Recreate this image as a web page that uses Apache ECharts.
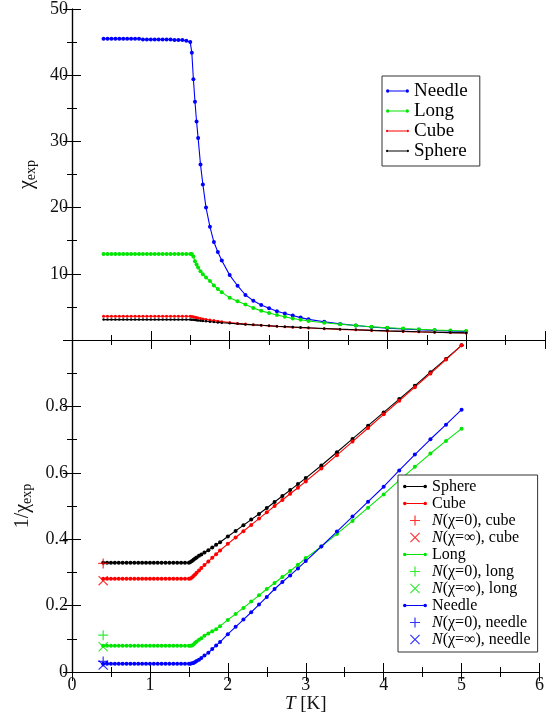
<!DOCTYPE html>
<html>
<head>
<meta charset="utf-8">
<script src="https://cdn.jsdelivr.net/npm/echarts@6/dist/echarts.min.js"></script>
<style>
html,body{margin:0;padding:0;background:#fff;}
#chart{width:547px;height:718px;}
</style>
</head>
<body>
<div id="chart"></div>
<script>
// Temperature values (K), shared by all measured series
const T = [0.40,0.45,0.50,0.55,0.60,0.65,0.70,0.75,0.80,0.85,0.90,0.95,1.00,1.05,1.10,1.15,1.20,1.25,1.30,1.35,1.40,1.45,1.50,
  1.52,1.54,1.56,1.58,1.60,1.63,1.66,1.70,1.75,1.80,1.85,1.90,2.0,2.1,2.2,2.3,2.4,2.5,2.6,2.7,2.8,2.9,3.0,3.2,3.4,3.6,3.8,4.0,4.2,4.4,4.6,4.8,5.0];

// Top panel: chi_exp
const needleChi = [45.5,45.5,45.5,45.5,45.5,45.5,45.5,45.5,45.5,45.5,45.4,45.4,45.4,45.4,45.4,45.4,45.4,45.4,45.3,45.3,45.3,45.2,45.0,
  43.4,39.4,36.0,33.0,30.5,26.5,23.5,20.0,17.1,14.8,13.3,12.0,9.8,8.2,6.8,5.94,5.3,4.8,4.35,4.0,3.7,3.38,3.12,2.75,2.43,2.18,1.97,1.80,1.66,1.54,1.44,1.35,1.28];
const longChi = [13.0,13.0,13.0,13.0,13.0,13.0,13.0,13.0,13.0,13.0,13.0,13.0,13.0,13.0,13.0,13.0,13.0,13.0,13.0,13.0,13.0,13.0,13.0,
  13.0,12.6,11.9,11.4,10.95,10.4,9.95,9.45,8.9,8.25,7.7,7.2,6.4,5.85,5.35,4.84,4.4,4.08,3.78,3.5,3.25,3.05,2.88,2.60,2.38,2.18,2.01,1.86,1.73,1.62,1.52,1.44,1.36];
const cubeChi = [3.58,3.58,3.58,3.58,3.58,3.58,3.58,3.58,3.58,3.58,3.58,3.58,3.58,3.58,3.58,3.58,3.58,3.58,3.58,3.58,3.58,3.58,3.58,
  3.56,3.50,3.44,3.38,3.33,3.26,3.19,3.11,3.02,2.93,2.85,2.77,2.63,2.51,2.41,2.31,2.22,2.14,2.06,2.00,1.93,1.87,1.81,1.71,1.61,1.53,1.45,1.37,1.30,1.23,1.17,1.12,1.07];
const sphereChi = [3.08,3.08,3.08,3.08,3.08,3.08,3.08,3.08,3.08,3.08,3.08,3.08,3.08,3.08,3.08,3.08,3.08,3.08,3.08,3.08,3.08,3.08,3.08,
  3.07,3.05,3.02,2.99,2.96,2.92,2.88,2.83,2.77,2.71,2.66,2.61,2.52,2.44,2.36,2.29,2.22,2.15,2.08,2.02,1.96,1.90,1.85,1.74,1.64,1.55,1.46,1.38,1.31,1.24,1.18,1.12,1.07];

// Bottom panel: 1/chi_exp
const sphereInv = [0.329,0.329,0.329,0.329,0.329,0.329,0.329,0.329,0.329,0.329,0.329,0.329,0.329,0.329,0.329,0.329,0.329,0.329,0.329,0.329,0.329,0.329,0.329,
  0.331,0.334,0.338,0.342,0.345,0.350,0.354,0.360,0.367,0.375,0.383,0.391,0.408,0.425,0.442,0.459,0.476,0.494,0.512,0.530,0.548,0.566,0.584,0.622,0.662,0.702,0.742,0.782,0.822,0.862,0.903,0.943,0.984];
const cubeInv = [0.281,0.281,0.281,0.281,0.281,0.281,0.281,0.281,0.281,0.281,0.281,0.281,0.281,0.281,0.281,0.281,0.281,0.281,0.281,0.281,0.281,0.281,0.281,
  0.282,0.285,0.289,0.294,0.299,0.306,0.313,0.322,0.333,0.344,0.355,0.366,0.386,0.405,0.424,0.443,0.462,0.481,0.500,0.518,0.537,0.555,0.574,0.613,0.653,0.694,0.735,0.776,0.817,0.858,0.899,0.941,0.984];
const longInv = [0.079,0.079,0.079,0.079,0.079,0.079,0.079,0.079,0.079,0.079,0.079,0.079,0.079,0.079,0.079,0.079,0.079,0.079,0.079,0.079,0.079,0.079,0.079,
  0.079,0.080,0.083,0.088,0.092,0.097,0.102,0.109,0.116,0.123,0.129,0.138,0.157,0.175,0.193,0.212,0.231,0.250,0.268,0.286,0.304,0.323,0.343,0.378,0.416,0.455,0.495,0.535,0.577,0.618,0.658,0.696,0.733];
const needleInv = [0.025,0.025,0.025,0.025,0.025,0.025,0.025,0.025,0.025,0.025,0.025,0.025,0.025,0.025,0.025,0.025,0.025,0.025,0.025,0.025,0.025,0.025,0.025,
  0.025,0.026,0.027,0.030,0.033,0.037,0.042,0.050,0.058,0.069,0.080,0.090,0.114,0.136,0.158,0.180,0.203,0.226,0.250,0.271,0.291,0.312,0.334,0.378,0.423,0.468,0.513,0.558,0.607,0.655,0.701,0.745,0.790];

// Demagnetisation-corrected estimates at T = 0.4 K
const estT = [0.4];
const cubeN0 = [0.327];
const cubeNinf = [0.275];
const longN0 = [0.111];
const longNinf = [0.076];
const needleN0 = [0.032];
const needleNinf = [0.021];

const topLegend = ['Needle', 'Long', 'Cube', 'Sphere'];
const bottomLegend = ['Sphere', 'Cube', 'N(χ=0), cube', 'N(χ=∞), cube', 'Long', 'N(χ=0), long', 'N(χ=∞), long', 'Needle', 'N(χ=0), needle', 'N(χ=∞), needle'];

const FONT = '"Liberation Serif", "Times New Roman", serif';
const BLUE = '#0000ff', GREEN = '#00e600', RED = '#ff0000', BLACK = '#000000';

const PLUS = 'path://M4.4,0H5.6V4.4H10V5.6H5.6V10H4.4V5.6H0V4.4H4.4Z';
const CROSS = 'path://M0,0.85L0.85,0L5,4.15L9.15,0L10,0.85L5.85,5L10,9.15L9.15,10L5,5.85L0.85,10L0,9.15L4.15,5Z';
const LINE_DOT = 'path://M0,5A1.8,1.8,0,1,1,3.6,5A1.8,1.8,0,1,1,0,5ZM20.4,5A1.8,1.8,0,1,1,24,5A1.8,1.8,0,1,1,20.4,5ZM3.6,4.5H20.4V5.5H3.6Z';
const LINE_SMALL = 'path://M0,5A1.2,1.2,0,1,1,2.4,5A1.2,1.2,0,1,1,0,5ZM21.6,5A1.2,1.2,0,1,1,24,5A1.2,1.2,0,1,1,21.6,5ZM2.4,4.6H21.6V5.4H2.4Z';

function pairs(xs, ys) { return xs.map((x, i) => [x, ys[i]]); }

function lineSeries(name, color, ys, xi, yi, size) {
  return {
    name: name, type: 'line', xAxisIndex: xi, yAxisIndex: yi,
    data: pairs(T, ys), symbol: 'circle', symbolSize: size, showSymbol: true, showAllSymbol: true,
    lineStyle: { color: color, width: 1.1 }, itemStyle: { color: color }, z: 3
  };
}
function markSeries(name, color, sym, ys) {
  return {
    name: name, type: 'scatter', xAxisIndex: 2, yAxisIndex: 2,
    data: pairs(estT, ys), symbol: sym, symbolSize: 10, itemStyle: { color: color }, z: 4
  };
}

const axisLineStyle = { show: true, lineStyle: { color: '#000', width: 1.2 } };
function xAx(grid, pos, labels) {
  const a = {
    type: 'value', gridIndex: grid, position: pos, min: 0, max: 6, interval: 1,
    axisLine: axisLineStyle,
    axisTick: { show: true, inside: true, length: 9, lineStyle: { color: '#000', width: 1 } },
    minorTick: { show: true, splitNumber: 2, length: 5, lineStyle: { color: '#000', width: 1 } },
    splitLine: { show: false }, minorSplitLine: { show: false },
    axisLabel: { show: labels, color: '#111', fontFamily: FONT, fontSize: 18, margin: 4 }
  };
  if (labels) {
    a.name = '{i|T} [K]';
    a.nameLocation = 'middle';
    a.nameGap = 21;
    a.nameTextStyle = { color: '#111', fontFamily: FONT, fontSize: 19,
      rich: { i: { fontStyle: 'italic', fontFamily: FONT, fontSize: 19, color: '#111' } } };
  }
  return a;
}
function yAx(grid, pos, max, interval, labels, nameStr, showMin, showMax) {
  const a = {
    type: 'value', gridIndex: grid, position: pos, min: 0, max: max, interval: interval,
    axisLine: axisLineStyle,
    axisTick: { show: true, inside: true, length: 9, lineStyle: { color: '#000', width: 1 } },
    minorTick: { show: true, splitNumber: 2, length: 5, lineStyle: { color: '#000', width: 1 } },
    splitLine: { show: false }, minorSplitLine: { show: false },
    axisLabel: { show: labels, color: '#111', fontFamily: FONT, fontSize: 18, margin: 4,
      showMinLabel: showMin, showMaxLabel: showMax }
  };
  if (nameStr) {
    a.name = nameStr;
    a.nameLocation = 'middle';
    a.nameRotate = 90;
    a.nameGap = 34;
    a.nameTextStyle = { color: '#111', fontFamily: FONT,
      rich: {
        a: { fontFamily: FONT, fontSize: 20, color: '#111' },
        b: { fontFamily: FONT, fontSize: 14, color: '#111', padding: [9, 0, 0, 0] }
      } };
  }
  return a;
}

function legendFormatter(name) {
  if (name.indexOf('N(') === 0) return '{i|N}{n|' + name.slice(1) + '}';
  return '{n|' + name + '}';
}

const option = {
  animation: false,
  backgroundColor: '#fff',
  grid: [
    { left: 72, top: 7, width: 473, height: 333 },
    { left: 72, top: 340, width: 473, height: 332 }
  ],
  xAxis: [xAx(0, 'bottom', false), xAx(0, 'top', false), xAx(1, 'bottom', true), xAx(1, 'top', false)],
  yAxis: [
    yAx(0, 'left', 50, 10, true, '{a|χ}{b|exp}', false, true),
    yAx(0, 'right', 50, 10, false, null, false, false),
    yAx(1, 'left', 1.0, 0.2, true, '{a|1/χ}{b|exp}', true, false),
    yAx(1, 'right', 1.0, 0.2, false, null, false, false)
  ],
  legend: [
    {
      data: [
        { name: topLegend[0], icon: LINE_DOT },
        { name: topLegend[1], icon: LINE_DOT },
        { name: topLegend[2], icon: LINE_SMALL },
        { name: topLegend[3], icon: LINE_SMALL }
      ],
      orient: 'vertical', left: 382, top: 76, padding: [5, 12, 5, 4], itemGap: 0,
      itemWidth: 23, itemHeight: 10, selectedMode: false,
      borderColor: '#333', borderWidth: 1, backgroundColor: '#fff',
      textStyle: { fontFamily: FONT, fontSize: 19, lineHeight: 20, color: '#000',
        rich: { n: { fontFamily: FONT, fontSize: 19, lineHeight: 20, color: '#000' } } },
      formatter: legendFormatter
    },
    {
      data: [
        { name: bottomLegend[0], icon: LINE_DOT },
        { name: bottomLegend[1], icon: LINE_DOT },
        { name: bottomLegend[2], icon: PLUS },
        { name: bottomLegend[3], icon: CROSS },
        { name: bottomLegend[4], icon: LINE_DOT },
        { name: bottomLegend[5], icon: PLUS },
        { name: bottomLegend[6], icon: CROSS },
        { name: bottomLegend[7], icon: LINE_DOT },
        { name: bottomLegend[8], icon: PLUS },
        { name: bottomLegend[9], icon: CROSS }
      ],
      orient: 'vertical', left: 398, top: 475, padding: [3, 7, 4, 5], itemGap: 0,
      itemWidth: 24, itemHeight: 10, selectedMode: false,
      borderColor: '#333', borderWidth: 1, backgroundColor: '#fff',
      textStyle: { fontFamily: FONT, fontSize: 16, lineHeight: 17, color: '#000',
        rich: {
          i: { fontFamily: FONT, fontSize: 16, lineHeight: 17, fontStyle: 'italic', color: '#000' },
          n: { fontFamily: FONT, fontSize: 16, lineHeight: 17, color: '#000' }
        } },
      formatter: legendFormatter
    }
  ],
  series: [
    lineSeries('Needle', BLUE, needleChi, 0, 0, 4),
    lineSeries('Long', GREEN, longChi, 0, 0, 4),
    lineSeries('Cube', RED, cubeChi, 0, 0, 3),
    lineSeries('Sphere', BLACK, sphereChi, 0, 0, 2.5),
    lineSeries('Sphere', BLACK, sphereInv, 2, 2, 4),
    lineSeries('Cube', RED, cubeInv, 2, 2, 4),
    markSeries('N(χ=0), cube', RED, PLUS, cubeN0),
    markSeries('N(χ=∞), cube', RED, CROSS, cubeNinf),
    lineSeries('Long', GREEN, longInv, 2, 2, 4),
    markSeries('N(χ=0), long', GREEN, PLUS, longN0),
    markSeries('N(χ=∞), long', GREEN, CROSS, longNinf),
    lineSeries('Needle', BLUE, needleInv, 2, 2, 4),
    markSeries('N(χ=0), needle', BLUE, PLUS, needleN0),
    markSeries('N(χ=∞), needle', BLUE, CROSS, needleNinf)
  ]
};

const chart = echarts.init(document.getElementById('chart'), null, { renderer: 'canvas' });
chart.setOption(option);
</script>
</body>
</html>
